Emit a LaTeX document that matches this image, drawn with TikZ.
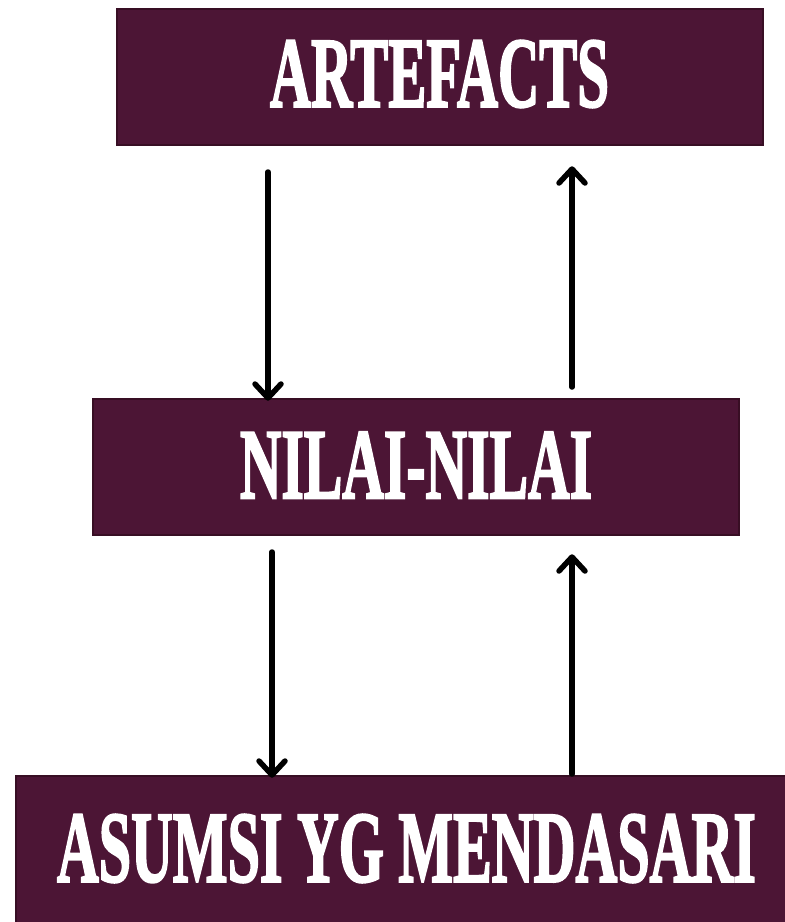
\documentclass[tikz,border=0pt]{standalone}
\usepackage{fontspec}
\usepackage{graphicx}
\setmainfont{Liberation Serif}
\newfontface\heavy{Liberation Serif Bold}[FakeBold=2.5]
\usetikzlibrary{arrows.meta}
\definecolor{boxfill}{HTML}{4C1535}
\definecolor{boxline}{HTML}{380E24}
\begin{document}
\begin{tikzpicture}[x=1pt,y=-1pt,
  box/.style={draw=boxline, line width=2.5pt, fill=boxfill, rectangle, inner sep=0pt},
  lbl/.style={text=white, inner sep=0pt, anchor=center},
  conn/.style={line width=5.5pt, line cap=round,
    -{Straight Barb[length=14pt,width=26pt,line cap=round,line join=round]}}]
\useasboundingbox (0,0) rectangle (785,922);
\node[box, minimum width=646pt, minimum height=136pt] (art) at (440,77) {};
\node[box, minimum width=646pt, minimum height=136pt] (nil) at (416,467) {};
\node[box, minimum width=800pt, minimum height=170pt] (asu) at (416,861) {};
\node[lbl] (tart) at (439.5,74) {\resizebox{339pt}{66pt}{\heavy ARTEFACTS}};
\node[lbl] (tnil) at (416,465) {\resizebox{352pt}{66pt}{\heavy NILAI-NILAI}};
\node[lbl] (tasu) at (406.5,848.5) {\resizebox{699pt}{67pt}{\heavy ASUMSI YG MENDASARI}};
\coordinate (a1s) at (268,172);
\coordinate (a2s) at (572,387);
\coordinate (a3s) at (272,552);
\coordinate (a4s) at (572,774);
\draw[conn] (a1s) -- ([yshift=-3pt]a1s |- nil.north);
\draw[conn] (a2s) -- ([yshift=-20pt]a2s |- art.south);
\draw[conn] (a3s) -- ([yshift=-3pt]a3s |- asu.north);
\draw[conn] (a4s) -- ([yshift=-18pt]a4s |- nil.south);
\end{tikzpicture}
\end{document}
